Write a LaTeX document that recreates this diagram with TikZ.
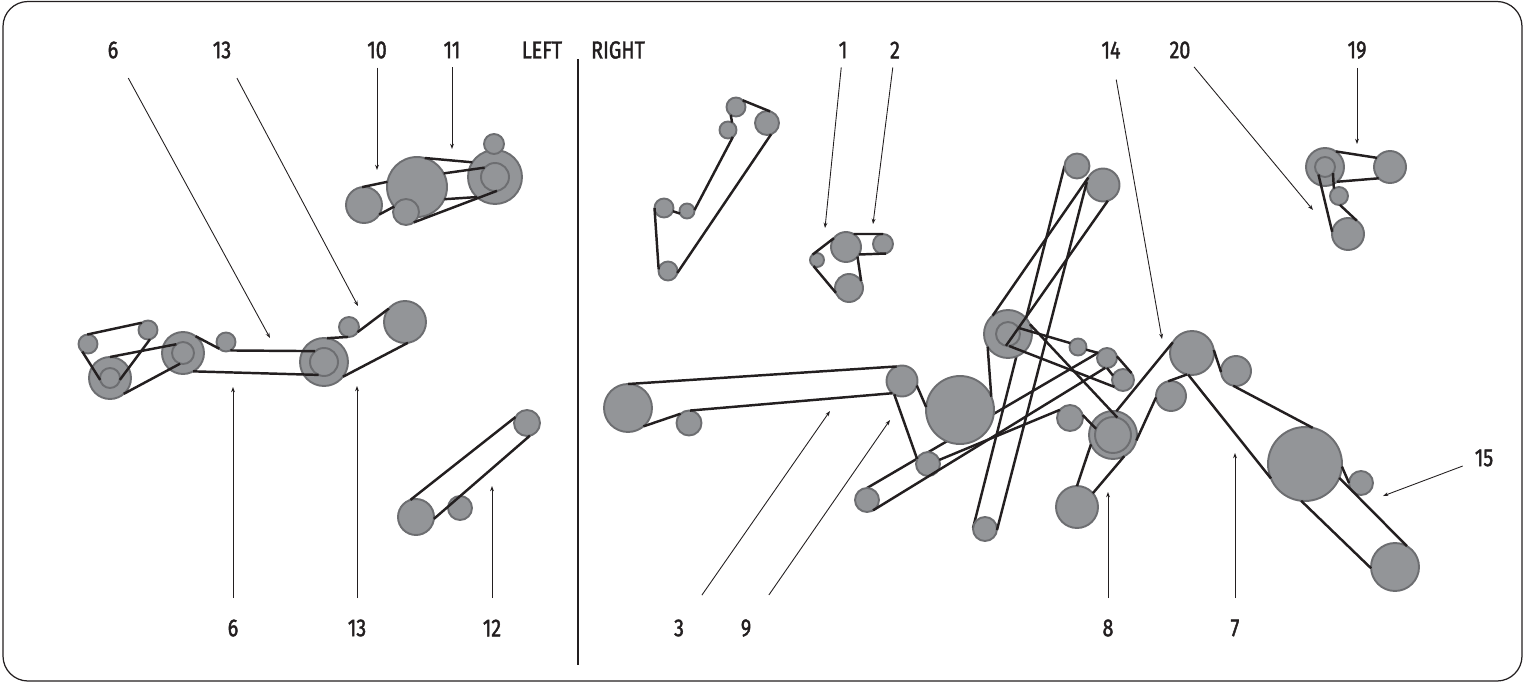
\documentclass[tikz,border=0pt]{standalone}
\usepackage{fontspec}
\setmainfont{Fira Sans}[FakeStretch=0.8, FakeBold=1.6]
\usetikzlibrary{arrows.meta}
\definecolor{pulleyfill}{HTML}{939598}
\definecolor{pulleyedge}{HTML}{6D6E71}
\definecolor{beltcol}{HTML}{231F20}
\pgfdeclarelayer{background}
\pgfsetlayers{background,main}
\begin{document}
\begin{tikzpicture}[x=0.02cm, y=-0.02cm]
\tikzset{pulley/.style={circle, draw=pulleyedge, fill=pulleyfill, line width=1.1pt, inner sep=0pt, outer sep=0pt, minimum size=#1*0.4mm},
  belt/.style={draw=beltcol, line width=1.4pt},
  lbl/.style={font=\fontsize{14}{16}\selectfont, text=beltcol, inner sep=3pt},
  lead/.style={draw=beltcol, line width=0.5pt, shorten <=9pt, -{Stealth[length=3pt, width=2.2pt]}}}
\useasboundingbox (0,0) rectangle (1525,683);
\draw[beltcol, line width=0.7pt, rounded corners=0.5cm] (3,1.5) rectangle (1522,681);
\draw[beltcol, line width=1.1pt] (578,59) -- (578,665);
\node[pulley=18] (a1) at (364,205) {};
\node[pulley=30] (a2) at (417,187) {};
\node[pulley=13] (a3) at (406,212) {};
\node[pulley=27] (a4) at (495,177) {};
\node[pulley=14] (a4i) at (495,177) {};
\node[pulley=10] (a5) at (494,144) {};
\node[pulley=9.5] (b1) at (88,344) {};
\node[pulley=9.5] (b2) at (148,330) {};
\node[pulley=21] (b3) at (110,378) {};
\node[pulley=10] (b3i) at (110,378) {};
\node[pulley=21] (b4) at (183,353) {};
\node[pulley=11] (b4i) at (183,353) {};
\node[pulley=9.5] (b5) at (226,342) {};
\node[pulley=24] (b6) at (324,362) {};
\node[pulley=14] (b6i) at (324,362) {};
\node[pulley=10] (b7) at (349,327) {};
\node[pulley=21] (b8) at (405,322) {};
\node[pulley=18] (c1) at (416,517) {};
\node[pulley=12] (c2) at (460,508) {};
\node[pulley=13] (c3) at (527,423) {};
\node[pulley=9.5] (d1) at (736,107) {};
\node[pulley=8.5] (d2) at (728,130) {};
\node[pulley=12] (d3) at (767,123) {};
\node[pulley=9.5] (d4) at (664,208) {};
\node[pulley=7.5] (d5) at (687,211) {};
\node[pulley=9.5] (d6) at (668,271) {};
\node[pulley=15] (e1) at (846,247) {};
\node[pulley=10] (e2) at (883,244) {};
\node[pulley=7] (e3) at (817,260) {};
\node[pulley=14] (e4) at (849,288) {};
\node[pulley=19] (f1) at (1325,167) {};
\node[pulley=10] (f1i) at (1325,167) {};
\node[pulley=16] (f2) at (1390,167) {};
\node[pulley=9] (f3) at (1339,196) {};
\node[pulley=16] (f4) at (1348,234) {};
\node[pulley=24] (g1) at (628,408) {};
\node[pulley=12.5] (g2) at (689,423) {};
\node[pulley=15.5] (g3) at (902,381) {};
\node[pulley=34] (g4) at (960,410) {};
\node[pulley=12] (g5) at (928,464) {};
\node[pulley=12] (g6) at (867,500) {};
\node[pulley=24] (g7) at (1008,334) {};
\node[pulley=12] (g7i) at (1008,334) {};
\node[pulley=8.5] (g8) at (1078,347) {};
\node[pulley=10] (g9) at (1107,358) {};
\node[pulley=11] (g10) at (1123,380) {};
\node[pulley=13] (g11) at (1070,418) {};
\node[pulley=24] (g12) at (1113,435) {};
\node[pulley=18] (g12i) at (1113,435) {};
\node[pulley=21] (g13) at (1077,507) {};
\node[pulley=12] (g14) at (985,529) {};
\node[pulley=12.5] (g15) at (1077,166) {};
\node[pulley=16.5] (g16) at (1103,185) {};
\node[pulley=22] (g17) at (1192,353) {};
\node[pulley=15] (g18) at (1236,371) {};
\node[pulley=15] (g19) at (1171,396) {};
\node[pulley=37] (g20) at (1305,464) {};
\node[pulley=12] (g21) at (1361,483) {};
\node[pulley=24] (g22) at (1395,567) {};
\begin{pgfonlayer}{background}
\draw[belt] (g6.90) -- (g9.146);
\draw[belt] (g15.180) -- (g14.175);
\end{pgfonlayer}
\draw[belt] (a1.96) -- (a2.170);
\draw[belt] (a2.75) -- (a4.147);
\draw[belt] (a2.27) -- (a4i.138);
\draw[belt] (a2.-24) -- (a4.228);
\draw[belt] (a3.-53) -- (a4i.278);
\draw[belt] (a1.-32) -- (a3.155);
\draw[belt] (b1.95) -- (b2.130);
\draw[belt] (b1.233) -- (b3i.191);
\draw[belt] (b2.282) -- (b3i.-11);
\draw[belt] (b3.90) -- (b4i.127);
\draw[belt] (b3.-49) -- (b4i.255);
\draw[belt] (b4.53) -- (b5.225);
\draw[belt] (b5.297) -- (b6i.129);
\draw[belt] (b4.299) -- (b6i.247);
\draw[belt] (b6.83) -- (b7.265);
\draw[belt] (b7.-31) -- (b8.140);
\draw[belt] (b6.-38) -- (b8.278);
\draw[belt] (c1.108) -- (c3.153);
\draw[belt] (c1.-6) -- (c3.283);
\draw[belt] (d1.45) -- (d3.75);
\draw[belt] (d1.236) -- (d2.61);
\draw[belt] (d2.305) -- (d5.7);
\draw[belt] (d5.200) -- (d4.-20);
\draw[belt] (d4.180) -- (d6.170);
\draw[belt] (d6.-12) -- (d3.290);
\draw[belt] (e1.60) -- (e2.90);
\draw[belt] (e1.-30) -- (e2.288);
\draw[belt] (e3.129) -- (e1.144);
\draw[belt] (e3.240) -- (e4.200);
\draw[belt] (e1.-40) -- (e4.30);
\draw[belt] (f1.55) -- (f2.145);
\draw[belt] (f1.309) -- (f2.225);
\draw[belt] (f1i.229) -- (f4.172);
\draw[belt] (f1i.323) -- (f3.125);
\draw[belt] (f3.276) -- (f4.57);
\draw[belt] (g1.90) -- (g3.110);
\draw[belt] (g2.85) -- (g3.232);
\draw[belt] (g1.310) -- (g2.132);
\draw[belt] (g3.240) -- (g5.155);
\draw[belt] (g3.-17) -- (g4.175);
\draw[belt] (g6.-60) -- (g9.260);
\draw[belt] (g5.20) -- (g11.141);
\draw[belt] (g16.153) -- (g7.130);
\draw[belt] (g16.170) -- (g14.-5);
\draw[belt] (g16.287) -- (g7i.260);
\draw[belt] (g7.212) -- (g4.23);
\draw[belt] (g7i.31) -- (g8.153);
\draw[belt] (g7i.275) -- (g10.219);
\draw[belt] (g7.24) -- (g12i.76);
\draw[belt] (g8.-18) -- (g9.150);
\draw[belt] (g9.10) -- (g10.39);
\draw[belt] (g9.270) -- (g10.156);
\draw[belt] (g11.13) -- (g12i.160);
\draw[belt] (g12.203) -- (g13.90);
\draw[belt] (g12.298) -- (g13.41);
\draw[belt] (g12.82) -- (g17.151);
\draw[belt] (g19.185) -- (g12.347);
\draw[belt] (g19.101) -- (g17.257);
\draw[belt] (g17.8) -- (g18.184);
\draw[belt] (g18.259) -- (g20.78);
\draw[belt] (g17.260) -- (g20.203);
\draw[belt] (g20.356) -- (g21.180);
\draw[belt] (g20.338) -- (g22.60);
\draw[belt] (g20.264) -- (g22.183);
\node[lbl] (n6t) at (113,50) {6};
\node[lbl] (n13t) at (222,50) {13};
\node[lbl] (n10) at (377,50) {10};
\node[lbl] (n11) at (452,50) {11};
\node[lbl] (nleft) at (542,50) {LEFT};
\node[lbl] (nright) at (618,50) {RIGHT};
\node[lbl] (n1) at (843,50) {1};
\node[lbl] (n2) at (895,50) {2};
\node[lbl] (n14) at (1111,50) {14};
\node[lbl] (n20) at (1180,50) {20};
\node[lbl] (n19) at (1357,50) {19};
\node[lbl] (n6b) at (233,628) {6};
\node[lbl] (n13b) at (357,628) {13};
\node[lbl] (n12) at (492,628) {12};
\node[lbl] (n3) at (679,628) {3};
\node[lbl] (n9) at (746,628) {9};
\node[lbl] (n8) at (1108,628) {8};
\node[lbl] (n7) at (1235,628) {7};
\node[lbl] (n15) at (1484,458) {15};
\coordinate (t6a) at (270,338);
\coordinate (t13a) at (358,306);
\coordinate (t10) at (377,170);
\coordinate (t11) at (452,149);
\coordinate (t1) at (825,228);
\coordinate (t2) at (873,224);
\coordinate (t14) at (1162,339);
\coordinate (t20) at (1313,210);
\coordinate (t19) at (1357,144);
\coordinate (t6b) at (233,387);
\coordinate (t13b) at (357,386);
\coordinate (t12) at (492,486);
\coordinate (t3) at (830,411);
\coordinate (t9) at (890,420);
\coordinate (t8) at (1108,492);
\coordinate (t7) at (1235,453);
\coordinate (t15) at (1383,496);
\draw[lead] (n6t) -- (t6a);
\draw[lead] (n13t) -- (t13a);
\draw[lead, shorten <=2pt] (n10) -- (t10);
\draw[lead, shorten <=2pt] (n11) -- (t11);
\draw[lead, shorten <=2pt] (n1) -- (t1);
\draw[lead, shorten <=2pt] (n2) -- (t2);
\draw[lead] (n14) -- (t14);
\draw[lead, shorten <=2pt] (n20) -- (t20);
\draw[lead, shorten <=2pt] (n19) -- (t19);
\draw[lead] (n6b) -- (t6b);
\draw[lead] (n13b) -- (t13b);
\draw[lead] (n12) -- (t12);
\draw[lead, shorten <=13pt] (n3) -- (t3);
\draw[lead, shorten <=13pt] (n9) -- (t9);
\draw[lead] (n8) -- (t8);
\draw[lead] (n7) -- (t7);
\draw[lead, shorten <=4pt] (n15) -- (t15);
\end{tikzpicture}
\end{document}
